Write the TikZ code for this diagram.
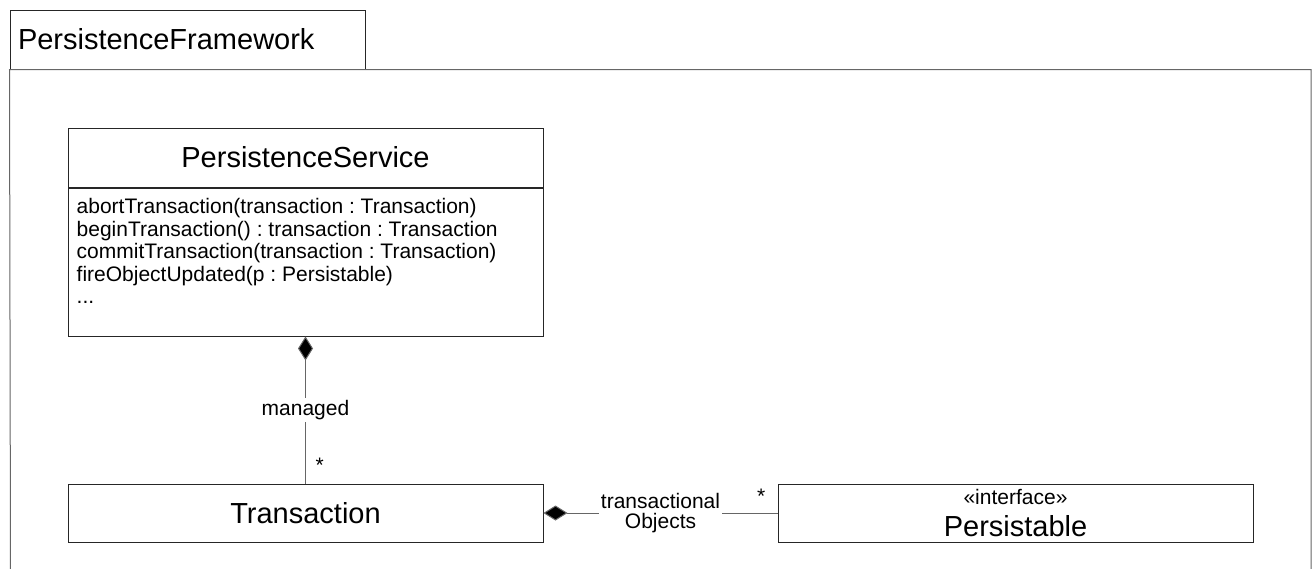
\documentclass[tikz,border=0pt]{standalone}
\usepackage{fontspec}
\setmainfont{Liberation Sans}
\usepackage{tikz}
\usetikzlibrary{positioning,arrows.meta}
\frenchspacing
\tikzset{
  bigfont/.style={font=\fontsize{29}{34}\selectfont},
  smallfont/.style={font=\fontsize{21}{22.5}\selectfont},
  classbox/.style={draw=black!85, line width=1pt, minimum width=475, bigfont, inner sep=0pt},
  optext/.style={smallfont, align=left, inner sep=0pt},
  assocline/.style={draw=black!60, line width=1pt},
  compose/.style={assocline, {Diamond[length=24pt, width=15pt, fill=black]}-},
  rolelabel/.style={smallfont, fill=white, inner sep=2pt, align=center},
  multlabel/.style={smallfont, inner sep=0pt}
}
\begin{document}
\begin{tikzpicture}[x=1pt, y=-1pt]
  \useasboundingbox (0,0) rectangle (1313,568);
  % package frame
  \node[draw=black!85, line width=1pt, minimum height=59, text width=339, inner xsep=8, align=left, bigfont]
    (pkgtab) at (187.5,39.5) {PersistenceFramework};
  \draw[draw=black!60, line width=1pt] (10.5,570) -- (pkgtab.south west) -- (1311,69.5) -- (1311,570);
  % classes
  \node[classbox, minimum height=59] (psname) at (305.5,157.5) {PersistenceService};
  \node[classbox, minimum height=148, anchor=north] (psbody) at (psname.south) {};
  \node[optext, anchor=north west] (psops) at ([xshift=9pt, yshift=-11pt]psbody.north west)
    {abortTransaction(transaction : Transaction)\\
     beginTransaction() : transaction : Transaction\\
     commitTransaction(transaction : Transaction)\\
     fireObjectUpdated(p : Persistable)\\
     ...};
  \node[classbox, minimum height=58] (tx) at (305.5,513) {Transaction};
  \node[classbox, minimum height=58, align=center] (pers) at (1015.5,513)
    {{\fontsize{21}{22}\selectfont «interface»}\\[-2pt]Persistable};
  % associations
  \draw[compose] (psbody.south) -- node[rolelabel, pos=0.5] (mgd) {managed} (tx.north);
  \node[multlabel, anchor=south west, xshift=10pt, yshift=11pt] (mgdmult) at (tx.north) {*};
  \draw[compose] (tx.east) -- node[rolelabel, pos=0.5] (txobj) {transactional\\[-2pt]Objects} (pers.west);
  \node[multlabel, anchor=south east, xshift=-12pt, yshift=9pt] (txmult) at (pers.west) {*};
\end{tikzpicture}
\end{document}
